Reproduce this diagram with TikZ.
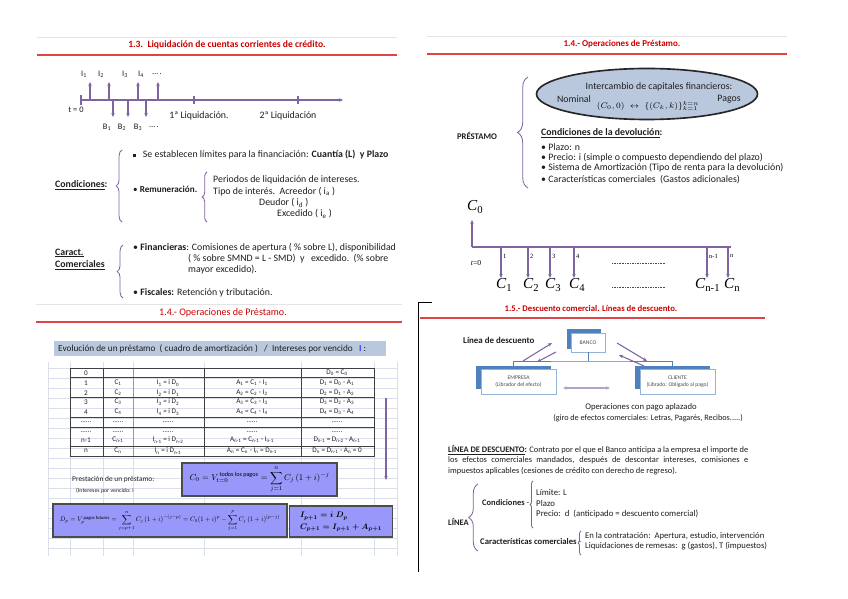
\documentclass[tikz,border=0pt]{standalone}
\usepackage{fontspec}
\setmainfont{Carlito}
\newfontfamily\tnr{Liberation Serif}
\usepackage{amsmath,amssymb}
\usepackage{graphicx}
\usepackage{tikz}
\usetikzlibrary{arrows.meta,shapes.geometric,decorations.pathreplacing,positioning}
\definecolor{violeta}{RGB}{128,100,162}
\definecolor{rojo}{RGB}{204,0,0}
\definecolor{linroja}{RGB}{222,70,70}
\definecolor{grisclaro}{RGB}{228,228,228}
\definecolor{celeste}{RGB}{186,200,222}
\definecolor{lila}{RGB}{152,152,250}
\definecolor{rejilla}{RGB}{218,224,234}
\definecolor{azulosc}{RGB}{79,129,189}
\definecolor{azulcla}{RGB}{149,179,215}
\definecolor{tinta}{RGB}{30,30,30}
\newcommand{\sbs}[2]{#1\textsubscript{#2}}
\newcommand{\cuadrito}{\raisebox{0.6pt}{\rule{2.3pt}{2.3pt}}}

\begin{document}
\begin{tikzpicture}[x=0.03cm,y=-0.03cm,>=Stealth,
  titulo/.style={font=\fontsize{#1}{9}\selectfont\bfseries,text=rojo},
  titulo/.default=8,
  texto/.style={font=\fontsize{8.4}{10}\selectfont,text=tinta,anchor=west,inner sep=0pt},
  chico/.style={texto,font=\fontsize{7.2}{8.5}\selectfont},
  eje/.style={violeta,line width=0.9pt},
  flecha/.style={violeta,line width=0.9pt,-{Stealth[length=3.5pt,width=3pt]}},
  llave/.style={violeta,line width=0.7pt,decorate,decoration={brace,amplitude=#1}},
  llave/.default=5pt,
  celda/.style={font=\fontsize{6.1}{7}\selectfont,text=tinta,inner sep=0pt},
  formula/.style={draw=black!70,fill=lila,line width=0.9pt,inner sep=0pt},
  fondo/.style={fill=azulosc,inner sep=0pt},
  frente/.style={draw=azulcla,fill=white,line width=0.6pt,inner sep=0pt,font=\fontsize{4.8}{6}\selectfont,text=black!70,align=center},
  ctiempo/.style={font=\fontsize{13}{14}\selectfont\tnr\itshape,inner sep=0pt},
  ntiempo/.style={font=\fontsize{5.5}{6}\selectfont\tnr,inner sep=0pt,anchor=west},
  parrafo/.style={texto,font=\fontsize{7.2}{9}\selectfont}]
\fill[white] (0,0) rectangle (848,599);
\useasboundingbox (0,0) rectangle (848,599);

\draw[grisclaro,line width=0.8pt] (37,37) -- (397,37);
\node[titulo=8.2] (tit13) at (227,45) {1.3.\ \ Liquidación de cuentas corrientes de crédito.};
\draw[linroja,line width=1pt] (37,55) -- (397,55);

\coordinate (t0) at (81,100);
\coordinate (tf) at (343,100);
\draw[flecha] (t0) -- (tf);
\draw[eje] (81,95) -- (81,105);
\foreach \x in {194,298} \draw[eje] (\x,96) -- (\x,104);
\foreach \x in {90,109,138,158} \draw[flecha] (\x,100) -- (\x,82);
\foreach \x in {113,128,146} \draw[flecha] (\x,100) -- (\x,117);
\foreach \x/\t [count=\k] in {84/{\sbs{I}{1}},101/{\sbs{I}{2}},125/{\sbs{I}{3}},141/{\sbs{I}{4}},157/{\dots\,.}}
  \node[chico,anchor=center] (ing\k) at (\x,74) {\t};
\foreach \x/\t [count=\k] in {107/{\sbs{B}{1}},122/{\sbs{B}{2}},138/{\sbs{B}{3}},154/{\dots\,.}}
  \node[chico,anchor=center] (pag\k) at (\x,127) {\t};
\node[chico,anchor=center] (tcero) at (76,110) {t = 0};
\node[texto,anchor=center] (liq1) at (199,116) {1ª Liquidación.};
\node[texto,anchor=center] (liq2) at (288,116) {2ª Liquidación};

\node[texto] (cond) at (55,185) {\textbf{\underline{Condiciones}:}};
\draw[llave] (122,222) -- (122,150);
\node[texto] (lim) at (133,155) {\cuadrito\hspace{6pt}Se establecen límites para la financiación: \textbf{Cuantía (L)\ \ y Plazo}};
\node[texto,font=\fontsize{7.8}{9}\selectfont] (rem) at (133,189) {\textbullet\ \textbf{Remuneración.}};
\draw[llave=4pt] (207,222) -- (207,172);
\node[texto] (per) at (213,180) {Periodos de liquidación de intereses.};
\node[texto] (tip) at (213,192) {Tipo de interés.\ \ Acreedor ( \sbs{i}{a} )};
\node[texto] (deu) at (259,203) {Deudor ( \sbs{i}{d} )};
\node[texto] (exc) at (277,214) {Excedido ( \sbs{i}{e} )};

\node[texto] (car1) at (55,253) {\textbf{\underline{Caract.}}};
\node[texto] (car2) at (55,265) {\textbf{\underline{Comerciales}}};
\draw[llave] (123,298) -- (123,245);
\node[texto] (fin1) at (133,248) {\textbullet\ \textbf{Financieras}: Comisiones de apertura ( \% sobre L), disponibilidad};
\node[texto] (fin2) at (188,259) {( \% sobre SMND = L - SMD)\ \ y\ \ \ excedido.\ \ (\% sobre};
\node[texto] (fin3) at (188,270) {mayor excedido).};
\node[texto] (fis) at (133,293) {\textbullet\ \textbf{Fiscales:} Retención y tributación.};

\draw[grisclaro,line width=0.8pt] (427,36) -- (787,36);
\node[titulo=7.7] (tit14a) at (622,44) {1.4.- Operaciones de Préstamo.};
\draw[linroja,line width=1pt] (427,54) -- (787,54);

\node[ellipse,draw=black!85,line width=1.4pt,fill=celeste,minimum width=6.63cm,minimum height=1.53cm] (inter) at (647,94) {};
\node[texto,anchor=center] (intert) at (659,87) {Intercambio de capitales financieros:};
\node[texto,anchor=center] (nom) at (574,99) {Nominal};
\node[texto,anchor=center] (pagos) at (729,99) {Pagos};
\node[inner sep=0pt,font=\fontsize{7.5}{8}\selectfont] (interf) at (648,106) {$(C_0,0)\;\leftrightarrow\;\{(C_k,k)\}_{k=1}^{k=n}$};
\node[texto,anchor=center,font=\fontsize{7.4}{8}\selectfont\bfseries] (prestamo) at (477,136) {PRÉSTAMO};
\draw[llave=9pt] (528,188) -- (528,77);
\node[texto] (dev) at (541,133) {\textbf{\underline{Condiciones de la devolución}:}};
\foreach \y/\t [count=\k] in {147/{Plazo: n},158/{Precio: i (simple o compuesto dependiendo del plazo)},168/{Sistema de Amortización (Tipo de renta para la devolución)},180/{Características comerciales\ \ (Gastos adicionales)}}
  \node[texto] (dev\k) at (541,\y) {\textbullet\ \t};

\coordinate (c0) at (472,247);
\coordinate (cf) at (731,247);
\draw[eje] (c0) -- (cf);
\draw[flecha] (c0) -- (472,220);
\node[ctiempo,anchor=west] (lc0) at (467,207) {C\textsubscript{\upshape 0}};
\node[inner sep=0pt,font=\fontsize{6.5}{7}\selectfont\tnr\itshape] (lt0) at (476,263) {t\upshape=0};
\foreach \x/\n/\d [count=\k] in {501/1/5,528/2/5,550/3/5,574/4/5,707/n-1/12,728/n/4}{
  \draw[flecha] (\x,247) -- (\x,278);
  \node[ntiempo] (num\k) at (\x+2,256) {\n};
  \node[ctiempo,anchor=west] (lc\k) at (\x-\d,285) {C\textsubscript{\upshape\n}};
}
\draw[black!70,line width=0.4pt,densely dotted] (612,263) -- (665,263);
\draw[black!70,line width=0.4pt,densely dotted] (612,287) -- (665,287);

\draw[grisclaro,line width=0.8pt] (36,304) -- (402,304);
\node[text=rojo,font=\fontsize{8.6}{9}\selectfont] (tit14b) at (223,313) {1.4.- Operaciones de Préstamo.};
\draw[linroja,line width=1pt] (36,322) -- (402,322);
\fill[celeste] (54,341) rectangle (386,356);
\node[texto,font=\fontsize{7.9}{9}\selectfont] (evol) at (58,348.5) {Evolución de un préstamo\ \ ( cuadro de amortización )\ \ \ /\ \ Intereses por vencido\ \ \ \textcolor{blue}{I} :};

\foreach \x in {48,70,103,133,204,301,374,397} \draw[rejilla,line width=0.5pt] (\x,362) -- (\x,556);
\foreach \y in {368,378,...,548} \draw[rejilla,line width=0.5pt] (48,\y) -- (397,\y);
\draw[black!40,line width=0.5pt] (133,368) -- (133,456);
\foreach \y in {377,397,417,427,446} \draw[black!75,line width=0.8pt] (70,\y) -- (374,\y);
\foreach \x in {103,204,301} \draw[black!75,line width=0.8pt] (\x,368) -- (\x,456);
\draw[black!75,line width=0.8pt] (70,368) rectangle (374,456);
\foreach \y/\a/\b/\c/\d/\e [count=\k] in {
  373/0/{}/{}/{}/{\sbs{D}{0} = \sbs{C}{0}},
  383/1/{\sbs{C}{1}}/{\sbs{I}{1} = i \sbs{D}{0}}/{\sbs{A}{1} = \sbs{C}{1} - \sbs{I}{1}}/{\sbs{D}{1} = \sbs{D}{0} - \sbs{A}{1}},
  393/2/{\sbs{C}{2}}/{\sbs{I}{2} = i \sbs{D}{1}}/{\sbs{A}{2} = \sbs{C}{2} - \sbs{I}{2}}/{\sbs{D}{2} = \sbs{D}{1} - \sbs{A}{2}},
  402/3/{\sbs{C}{3}}/{\sbs{I}{3} = i \sbs{D}{2}}/{\sbs{A}{3} = \sbs{C}{3} - \sbs{I}{3}}/{\sbs{D}{3} = \sbs{D}{2} - \sbs{A}{3}},
  412/4/{\sbs{C}{4}}/{\sbs{I}{4} = i \sbs{D}{3}}/{\sbs{A}{4} = \sbs{C}{4} - \sbs{I}{4}}/{\sbs{D}{4} = \sbs{D}{3} - \sbs{A}{4}},
  422/{......}/{......}/{......}/{......}/{......},
  432/{......}/{......}/{......}/{......}/{......},
  440/{n-1}/{\sbs{C}{n-1}}/{\sbs{I}{n-1} = i \sbs{D}{n-2}}/{\sbs{A}{n-1} = \sbs{C}{n-1} - \sbs{I}{n-1}}/{\sbs{D}{n-1} = \sbs{D}{n-2} - \sbs{A}{n-1}},
  451/n/{\sbs{C}{n}}/{\sbs{I}{n} = i \sbs{D}{n-1}}/{\sbs{A}{n} = \sbs{C}{n} - \sbs{I}{n} = \sbs{D}{n-1}}/{\sbs{D}{n} = \sbs{D}{n-1} - \sbs{A}{n} = 0}}{
  \node[celda] (per\k) at (86,\y) {\a};
  \node[celda] (cuo\k) at (118,\y) {\b};
  \node[celda] (int\k) at (168,\y) {\c};
  \node[celda] (amo\k) at (252,\y) {\d};
  \node[celda] (deu\k) at (337,\y) {\e};
}
\draw[flecha] (386,398) -- (386,480);

\node[texto,font=\fontsize{6.3}{7}\selectfont] (prest) at (72,480) {Prestación de un préstamo:};
\node[texto,font=\fontsize{5}{6}\selectfont] (venc) at (76,491) {(Intereses por vencido: i};
\node[formula,minimum width=4.65cm,minimum height=0.99cm] (f1) at (259.5,479.5)
  {\resizebox{4.2cm}{!}{$C_0 = V_{t=0}^{\,\text{todos los pagos}} = \displaystyle\sum_{j=1}^{n} C_j\,(1+i)^{-j}$}};
\node[formula,minimum width=7.02cm,minimum height=0.99cm] (f2) at (170,520.5)
  {\resizebox{6.6cm}{!}{$D_p = V_p^{\,\text{pagos futuros}} = \displaystyle\sum_{j=p+1}^{n} C_j\,(1+i)^{-(j-p)} = C_0(1+i)^p - \sum_{j=1}^{p} C_j\,(1+i)^{(p-j)}$}};
\node[formula,minimum width=3.09cm,minimum height=0.93cm] (f3) at (341,521.5)
  {\resizebox{2.7cm}{!}{\boldmath$\begin{array}{l} I_{p+1} = i\;D_p\\[2pt] C_{p+1} = I_{p+1} + A_{p+1}\end{array}$}};

\draw[black,line width=0.6pt] (432,302) -- (418,302) -- (418,572);
\node[titulo=7.4] (tit15) at (591,308) {1.5.- Descuento comercial. Líneas de descuento.};
\draw[linroja,line width=1pt] (420,318) -- (765,318);
\node[texto,font=\fontsize{7.6}{9}\selectfont\bfseries] (lindesc) at (463,340) {Línea de descuento};

\node[fondo,minimum width=1.02cm,minimum height=0.6cm] (bancof) at (584,339) {};
\node[frente,minimum width=1.02cm,minimum height=0.57cm] (banco) at (588,342.5) {BANCO};
\node[fondo,minimum width=2.25cm,minimum height=0.69cm] (empf) at (513.5,377.5) {};
\node[frente,minimum width=2.25cm,minimum height=0.75cm] (emp) at (518.5,381.5) {EMPRESA\\(Librador del efecto)};
\node[fondo,minimum width=2.25cm,minimum height=0.69cm] (clif) at (672.5,377.5) {};
\node[frente,minimum width=2.25cm,minimum height=0.75cm] (cli) at (677.5,381.5) {CLIENTE\\(Librado: Obligado al pago)};
\coordinate (bus) at (588,361);
\draw[azulosc,line width=0.6pt] (banco.south) -- (bus) (empf.north) |- (bus) -| (clif.north);
\draw[flecha] (523,361) -- (552,343);
\draw[flecha] (556,352) -- (537,362);
\draw[flecha] (617,343) -- (647,361);
\draw[flecha] (644,366) -- (619,355);
\draw[violeta!60,line width=0.9pt,{Stealth[length=3.5pt,width=3pt]}-{Stealth[length=3.5pt,width=3pt]}] (563,388) -- (610,388);
\node[texto,anchor=center,font=\fontsize{7.4}{8.6}\selectfont] (opera) at (641,407) {Operaciones con pago aplazado};
\node[texto,anchor=center,font=\fontsize{7}{8.4}\selectfont] (giro) at (648,418) {(giro de efectos comerciales: Letras, Pagarés, Recibos.....)};

\node[parrafo] (def1) at (448,450) {\makebox[9cm][s]{\textbf{\underline{LÍNEA DE DESCUENTO}:} Contrato por el que el Banco anticipa a la empresa el importe de}};
\node[parrafo] (def2) at (448,460.5) {\makebox[9cm][s]{los efectos comerciales mandados, después de descontar intereses, comisiones e}};
\node[parrafo] (def3) at (448,471) {impuestos aplicables (cesiones de crédito con derecho de regreso).};
\node[texto,font=\fontsize{7.2}{8}\selectfont\bfseries] (linea) at (448,522) {LÍNEA};
\draw[llave=8pt] (478,551) -- (478,484);
\node[texto,font=\fontsize{7.2}{8}\selectfont] (condl) at (482,503) {\textbf{Condiciones} -};
\draw[llave=2.5pt] (533,528) -- (533,481);
\foreach \y/\t [count=\k] in {493/{Límite: L},503/{Plazo},514/{Precio:\ \ d\ \ (anticipado = descuento comercial)}}
  \node[texto,font=\fontsize{7.5}{8.5}\selectfont] (condl\k) at (536,\y) {\t};
\node[texto,font=\fontsize{7.4}{8}\selectfont] (carl) at (480,541) {\textbf{Características comerciales} -};
\draw[llave=2.5pt] (581,555) -- (581,531);
\node[texto,font=\fontsize{7.4}{8.5}\selectfont] (carl1) at (585,536) {En la contratación:\ \ Apertura, estudio, intervención};
\node[texto,font=\fontsize{7.4}{8.5}\selectfont] (carl2) at (585,546) {Liquidaciones de remesas:\ \ g (gastos), T (impuestos)};
\end{tikzpicture}
\end{document}
